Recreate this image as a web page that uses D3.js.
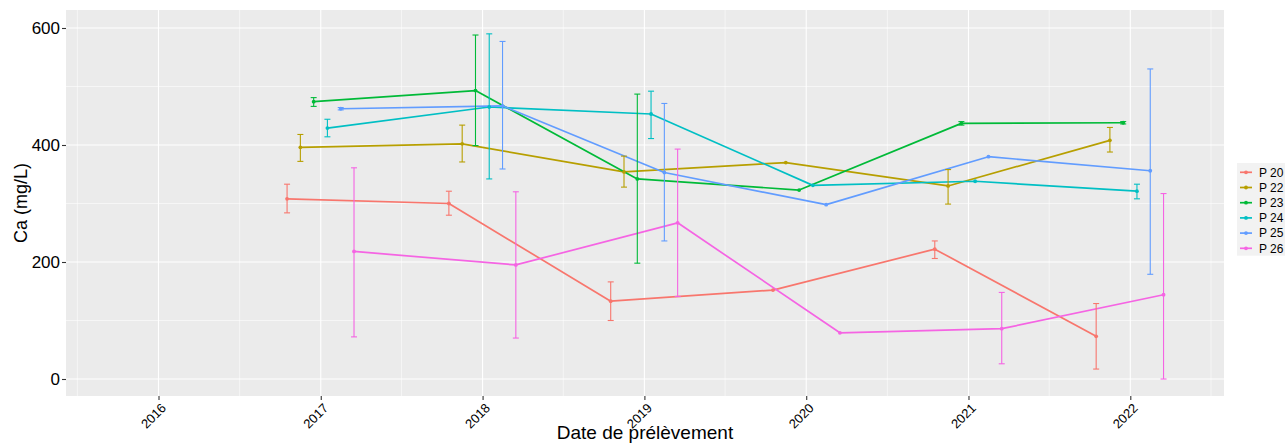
<!DOCTYPE html>
<html>
<head>
<meta charset="utf-8">
<script src="https://cdn.jsdelivr.net/npm/d3@7"></script>
<style>
  html, body { margin: 0; padding: 0; background: #ffffff; }
  svg { display: block; font-family: "Liberation Sans", Arial, sans-serif; }
</style>
</head>
<body>
<svg id="chart" width="1285" height="443"></svg>
<script>
// Calcium concentration per sampling point, yearly campaigns
const seriesNames = ["P 20", "P 22", "P 23", "P 24", "P 25", "P 26"];
const seriesColors = ["#F8766D", "#B79F00", "#00BA38", "#00BFC4", "#619CFF", "#F564E3"];

const p20Dates = ["2016-10-17", "2017-10-17", "2018-10-17", "2019-10-18", "2020-10-17", "2021-10-16"];
const p20Ca    = [308, 300, 133, 152, 222, 73];
const p20Low   = [284, 280, 100, null, 206, 17];
const p20High  = [333, 321, 166, null, 236, 129];

const p22Dates = ["2016-11-16", "2017-11-16", "2018-11-16", "2019-11-16", "2020-11-16", "2021-11-16"];
const p22Ca    = [396, 402, 354, 370, 330, 408];
const p22Low   = [372, 371, 328, null, 299, 388];
const p22High  = [418, 434, 381, null, 358, 430];

const p23Dates = ["2016-12-16", "2017-12-16", "2018-12-16", "2019-12-16", "2020-12-16", "2021-12-16"];
const p23Ca    = [474, 493, 342, 323, 437, 438];
const p23Low   = [466, 399, 198, null, 434, 436];
const p23High  = [481, 588, 487, null, 440, 440];

const p24Dates = ["2017-01-16", "2018-01-16", "2019-01-16", "2020-01-16", "2021-01-16", "2022-01-16"];
const p24Ca    = [429, 465, 453, 331, 338, 321];
const p24Low   = [414, 342, 411, null, null, 308];
const p24High  = [444, 590, 492, null, null, 333];

const p25Dates = ["2017-02-15", "2018-02-15", "2019-02-15", "2020-02-15", "2021-02-15", "2022-02-15"];
const p25Ca    = [462, 467, 353, 298, 380, 356];
const p25Low   = [460, 359, 236, null, null, 179];
const p25High  = [464, 577, 471, null, null, 530];

const p26Dates = ["2017-03-17", "2018-03-17", "2019-03-17", "2020-03-17", "2021-03-17", "2022-03-17"];
const p26Ca    = [218, 195, 267, 79, 86, 144];
const p26Low   = [72, 70, 141, null, 26, 0];
const p26High  = [361, 320, 393, null, 148, 317];

const yTicks = [0, 200, 400, 600];
const yMinor = [100, 300, 500];
const xTickYears = [2016, 2017, 2018, 2019, 2020, 2021, 2022];

const seriesTable = [
  [p20Dates, p20Ca, p20Low, p20High],
  [p22Dates, p22Ca, p22Low, p22High],
  [p23Dates, p23Ca, p23Low, p23High],
  [p24Dates, p24Ca, p24Low, p24High],
  [p25Dates, p25Ca, p25Low, p25High],
  [p26Dates, p26Ca, p26Low, p26High]
].map(([dates, ca, lo, hi], i) => ({
  name: seriesNames[i],
  color: seriesColors[i],
  points: dates.map((d, j) => ({
    date: new Date(d + "T00:00:00Z"),
    value: ca[j],
    low: lo[j],
    high: hi[j]
  }))
}));

const svg = d3.select("#chart");
const panel = { left: 66, right: 1224, top: 10, bottom: 396 };

const x = d3.scaleUtc()
  .domain([new Date(Date.UTC(2016, 0, 1)), new Date(Date.UTC(2022, 0, 1))])
  .range([158.5, 1130.3]);
const y = d3.scaleLinear().domain([0, 600]).range([379, 28]);

// panel background
svg.append("rect")
  .attr("x", panel.left).attr("y", panel.top)
  .attr("width", panel.right - panel.left).attr("height", panel.bottom - panel.top)
  .attr("fill", "#EBEBEB");

const grid = svg.append("g");
// minor grid
const minorDates = d3.range(2015, 2023).map(yr => new Date(Date.UTC(yr, 6, 2)))
  .filter(d => x(d) > panel.left && x(d) < panel.right);
grid.selectAll(".vminor").data(minorDates).join("line")
  .attr("x1", d => x(d)).attr("x2", d => x(d))
  .attr("y1", panel.top).attr("y2", panel.bottom)
  .attr("stroke", "#ffffff").attr("stroke-width", 0.55);
grid.selectAll(".hminor").data(yMinor).join("line")
  .attr("x1", panel.left).attr("x2", panel.right)
  .attr("y1", d => y(d)).attr("y2", d => y(d))
  .attr("stroke", "#ffffff").attr("stroke-width", 0.55);
// major grid
const tickDates = xTickYears.map(yr => new Date(Date.UTC(yr, 0, 1)));
grid.selectAll(".vmajor").data(tickDates).join("line")
  .attr("x1", d => x(d)).attr("x2", d => x(d))
  .attr("y1", panel.top).attr("y2", panel.bottom)
  .attr("stroke", "#ffffff").attr("stroke-width", 1.1);
grid.selectAll(".hmajor").data(yTicks).join("line")
  .attr("x1", panel.left).attr("x2", panel.right)
  .attr("y1", d => y(d)).attr("y2", d => y(d))
  .attr("stroke", "#ffffff").attr("stroke-width", 1.1);

// axes
const yAxis = d3.axisLeft(y).tickValues(yTicks).tickSize(4).tickPadding(2);
const yg = svg.append("g").attr("transform", `translate(${panel.left},0)`).call(yAxis);
yg.select(".domain").remove();
yg.selectAll(".tick line").attr("stroke", "#333333").attr("stroke-width", 1.1);
yg.selectAll(".tick text").attr("font-size", 17).attr("fill", "#000000")
  .attr("font-family", "Liberation Sans, Arial, sans-serif");

const xAxis = d3.axisBottom(x).tickValues(tickDates).tickFormat(d3.utcFormat("%Y")).tickSize(4);
const xg = svg.append("g").attr("transform", `translate(0,${panel.bottom})`).call(xAxis);
xg.select(".domain").remove();
xg.selectAll(".tick line").attr("stroke", "#333333").attr("stroke-width", 1.1);
xg.selectAll(".tick text")
  .attr("font-size", 13).attr("fill", "#000000")
  .attr("font-family", "Liberation Sans, Arial, sans-serif")
  .attr("text-anchor", "end")
  .attr("y", 0)
  .attr("transform", "translate(1,6) rotate(-45)")
  .attr("dy", "0.75em");

// axis titles
svg.append("text")
  .attr("x", (panel.left + panel.right) / 2).attr("y", 439)
  .attr("text-anchor", "middle").attr("font-size", 19).attr("fill", "#000")
  .text("Date de prélèvement");
svg.append("text")
  .attr("transform", `translate(27,${(panel.top + panel.bottom) / 2}) rotate(-90)`)
  .attr("text-anchor", "middle").attr("font-size", 18).attr("fill", "#000")
  .text("Ca (mg/L)");

// series
const plot = svg.append("g");
const line = d3.line().x(d => x(d.date)).y(d => y(d.value));

seriesTable.forEach(s => {
  plot.append("path")
    .datum(s.points)
    .attr("d", line)
    .attr("fill", "none")
    .attr("stroke", s.color)
    .attr("stroke-width", 1.7)
    .attr("stroke-linejoin", "round");
});
seriesTable.forEach(s => {
  plot.append("g").selectAll("circle").data(s.points).join("circle")
    .attr("cx", d => x(d.date)).attr("cy", d => y(d.value))
    .attr("r", 1.9).attr("fill", s.color);
});
const capHalf = 3;
seriesTable.forEach(s => {
  const bars = plot.append("g")
    .attr("stroke", s.color).attr("stroke-width", 1.1).attr("fill", "none")
    .selectAll("g").data(s.points.filter(d => d.low !== null)).join("g");
  bars.append("line")
    .attr("x1", d => x(d.date)).attr("x2", d => x(d.date))
    .attr("y1", d => y(d.low)).attr("y2", d => y(d.high));
  bars.append("line")
    .attr("x1", d => x(d.date) - capHalf).attr("x2", d => x(d.date) + capHalf)
    .attr("y1", d => y(d.low)).attr("y2", d => y(d.low));
  bars.append("line")
    .attr("x1", d => x(d.date) - capHalf).attr("x2", d => x(d.date) + capHalf)
    .attr("y1", d => y(d.high)).attr("y2", d => y(d.high));
});

// legend
const legend = svg.append("g").attr("transform", "translate(1237,163)");
const rowH = 15.2;
legend.append("rect")
  .attr("x", 0).attr("y", 0)
  .attr("width", 48).attr("height", rowH * seriesNames.length + 1.5)
  .attr("fill", "#F2F2F2");
const rows = legend.selectAll(".row").data(seriesTable).join("g")
  .attr("transform", (d, i) => `translate(0,${9.3 + i * rowH})`);
rows.append("line")
  .attr("x1", 3).attr("x2", 15).attr("y1", 0).attr("y2", 0)
  .attr("stroke", d => d.color).attr("stroke-width", 1.7);
rows.append("circle")
  .attr("cx", 9).attr("cy", 0).attr("r", 1.9).attr("fill", d => d.color);
rows.append("text")
  .attr("x", 22).attr("y", 0).attr("dy", "0.36em")
  .attr("font-size", 12).attr("fill", "#000")
  .text(d => d.name);
</script>
</body>
</html>
